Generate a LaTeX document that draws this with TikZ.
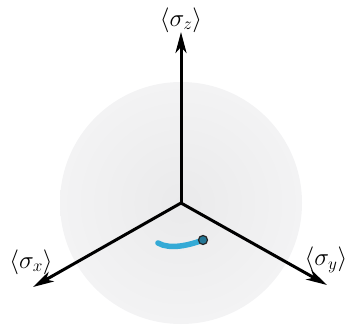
\documentclass[tikz,border=0pt]{standalone}
\usetikzlibrary{arrows.meta}
\definecolor{spheregray}{RGB}{234,234,235}
\definecolor{spherelight}{RGB}{243,243,244}
\definecolor{trajblue}{RGB}{52,170,214}
\tikzset{
  axis/.style={line width=3pt,-{Stealth[length=21pt,width=11pt,inset=6pt]}},
  axlabel/.style={inner sep=0pt,font=\fontsize{26}{30}\selectfont},
}
\begin{document}
\begin{tikzpicture}[x=1pt,y=-1pt]
\useasboundingbox (0,0) rectangle (353,326);
\begin{scope}
\clip (0,0) rectangle (353,326);
\shade[inner color=spheregray, outer color=spherelight] (181,203) circle (121);
\end{scope}
\coordinate (O) at (181,203);
\coordinate (zt) at (181,32);
\coordinate (xt) at (33,287);
\coordinate (yt) at (327,285);
\draw[axis] (O) -- (zt);
\draw[axis] (O) -- (xt);
\draw[axis] (O) -- (yt);
\node[axlabel] (lz) at (181,20) {$\langle\sigma_z\rangle$};
\node[axlabel] (lx) at (31,262) {$\langle\sigma_x\rangle$};
\node[axlabel] (ly) at (326,260) {$\langle\sigma_y\rangle$};
\coordinate (ts) at (158,243);
\coordinate (te) at (203,240);
\draw[trajblue, line width=5.5pt, line cap=round] (ts) .. controls (170,250) and (190,245) .. (te);
\node[circle, fill=trajblue!70!black, draw=black!85, line width=1.2pt, minimum size=9pt, inner sep=0pt] (dot) at (te) {};
\end{tikzpicture}
\end{document}
